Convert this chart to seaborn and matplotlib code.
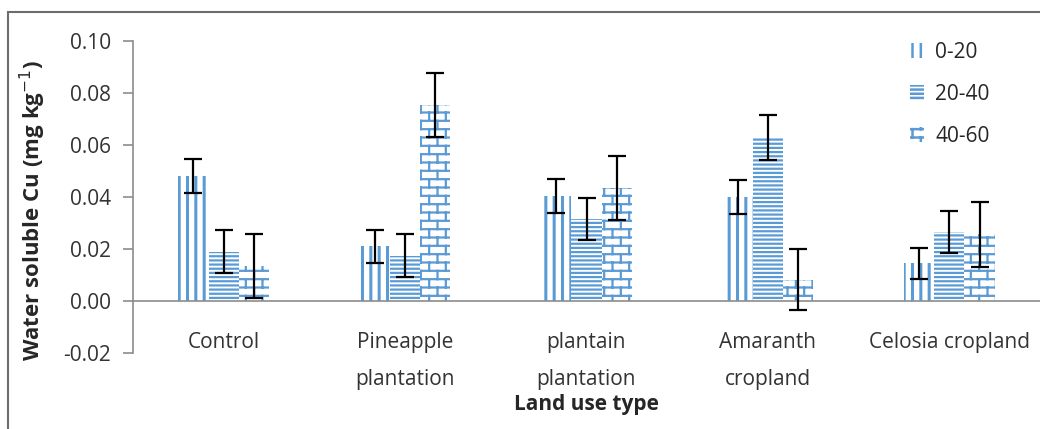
import numpy as np
import pandas as pd
import seaborn as sns
import matplotlib
matplotlib.use('Agg')
import matplotlib.pyplot as plt
import matplotlib.hatch as mhatch
import matplotlib.patches as mpatches
from matplotlib.path import Path
from matplotlib.ticker import MultipleLocator, StrMethodFormatter

#data
land_use = ['Control', 'Pineapple\nplantation', 'plantain\nplantation',
            'Amaranth\ncropland', 'Celosia cropland']
depths = ['0-20', '20-40', '40-60']
cu_0_20 = [0.048, 0.021, 0.0405, 0.040, 0.0145]
cu_20_40 = [0.019, 0.0175, 0.0315, 0.063, 0.0265]
cu_40_60 = [0.0135, 0.0755, 0.0433, 0.0082, 0.0256]
err_0_20 = [0.0065, 0.0062, 0.0065, 0.0067, 0.006]
err_20_40 = [0.0082, 0.0083, 0.0082, 0.0087, 0.0081]
err_40_60 = [0.0123, 0.0123, 0.0123, 0.0118, 0.0124]

means = [cu_0_20, cu_20_40, cu_40_60]
errs = [err_0_20, err_20_40, err_40_60]

blue = '#5B9BD5'


#brick hatch (Excel "horizontal brick"), put in place of the '*' stars
class BrickHatch(mhatch.HatchPatternBase):
    def __init__(self, hatch, density):
        self.rows = 12 if '*' in hatch else 0
        self.per_row = 6
        self.num_vertices = 2 * (self.rows + self.rows * self.per_row + self.per_row)

    def set_vertices_and_codes(self, vertices, codes):
        n, m = self.rows, self.per_row
        k = 0
        for r in range(n):
            y0 = (r + 0.5) / n
            vertices[k] = (0, y0)
            vertices[k + 1] = (1, y0)
            k += 2
            shift = 0.5 if r % 2 else 0.0
            for b in range(m):
                x = (b + 0.25 + shift) / m
                y1 = min((r + 1.5) / n, 1.0)
                vertices[k] = (x, y0)
                vertices[k + 1] = (x, y1)
                k += 2
                if r == n - 1:
                    vertices[k] = (x, 0)
                    vertices[k + 1] = (x, 0.5 / n)
                    k += 2
        codes[0::2] = Path.MOVETO
        codes[1::2] = Path.LINETO


mhatch._hatch_types = [t for t in mhatch._hatch_types if t is not mhatch.Stars] + [BrickHatch]
hatches = ['||', '----', '*']
hatch_widths = [2.2, 1.6, 1.6]

sns.set_style('white')
plt.rcParams['font.family'] = ['Open Sans', 'DejaVu Sans']
plt.rcParams['hatch.linewidth'] = 1.8
plt.rcParams['hatch.color'] = blue
plt.rcParams['axes.unicode_minus'] = False


def style_patch(p, i):
    p.set_facecolor('white')
    p.set_edgecolor(blue)
    p.set_linewidth(0)
    p.set_hatch(hatches[i])
    if hasattr(p, 'set_hatch_linewidth'):
        p.set_hatch_linewidth(hatch_widths[i])


df = pd.DataFrame({
    'Land use': land_use * 3,
    'Depth': np.repeat(depths, len(land_use)),
    'Cu': cu_0_20 + cu_20_40 + cu_40_60,
})

fig = plt.figure(figsize=(10.4, 4.29), dpi=100)
ax = fig.add_axes([133 / 1040, 76 / 429, 1 - 133 / 1040, 312 / 429])

sns.barplot(data=df, x='Land use', y='Cu', hue='Depth', order=land_use,
            hue_order=depths, errorbar=None, width=0.5, ax=ax)

bar_containers = list(ax.containers)
for i, cont in enumerate(bar_containers):
    xs = []
    for bar in cont:
        style_patch(bar, i)
        xs.append(bar.get_x() + bar.get_width() / 2)
    ax.errorbar(xs, means[i], yerr=errs[i], fmt='none', ecolor='black',
                elinewidth=1.6, capsize=6.5, capthick=1.6, zorder=5)

ax.set_ylim(-0.02, 0.10)
ax.set_xlim(-0.5, 4.5)
ax.yaxis.set_major_locator(MultipleLocator(0.02))
ax.yaxis.set_major_formatter(StrMethodFormatter('{x:.2f}'))

for s in ['top', 'right']:
    ax.spines[s].set_visible(False)
ax.spines['left'].set_color('#8c8c8c')
ax.spines['bottom'].set_color('#8c8c8c')
ax.spines['bottom'].set_position(('data', 0))
ax.spines['left'].set_linewidth(1.2)
ax.spines['bottom'].set_linewidth(1.2)

ax.tick_params(axis='y', direction='out', length=7, width=1.2, color='#8c8c8c',
               labelsize=15, labelcolor='#333333', pad=9, left=True)
ax.tick_params(axis='x', length=0, labelsize=15, labelcolor='#333333', pad=22.5)
for t in ax.get_xticklabels():
    t.set_linespacing(1.98)

ax.set_ylabel('Water soluble Cu (mg kg$^{-1}$)', fontsize=16, fontweight='bold',
              color='#262626')
ax.yaxis.set_label_coords(-0.094, 0.457)
ax.set_xlabel('Land use type', fontsize=15, fontweight='bold', color='#262626')
ax.xaxis.set_label_coords(0.5, -0.133)

ax.get_legend().remove()
handles = []
for i in range(len(depths)):
    h = mpatches.Patch()
    style_patch(h, i)
    handles.append(h)
ax.legend(handles, depths, loc='upper left', bbox_to_anchor=(0.836, 1.057),
          frameon=False, fontsize=15, handlelength=0.65, handleheight=0.7,
          handletextpad=0.55, labelspacing=1.0, labelcolor='#262626')

#outer frame of the figure
fig.add_artist(mpatches.Rectangle((8 / 1040, -0.1), 1.2, 1 - 12 / 429 + 0.1,
                                  transform=fig.transFigure, fill=False,
                                  edgecolor='#6d6d6d', linewidth=1.5))

fig.savefig('out.png', dpi=100)
